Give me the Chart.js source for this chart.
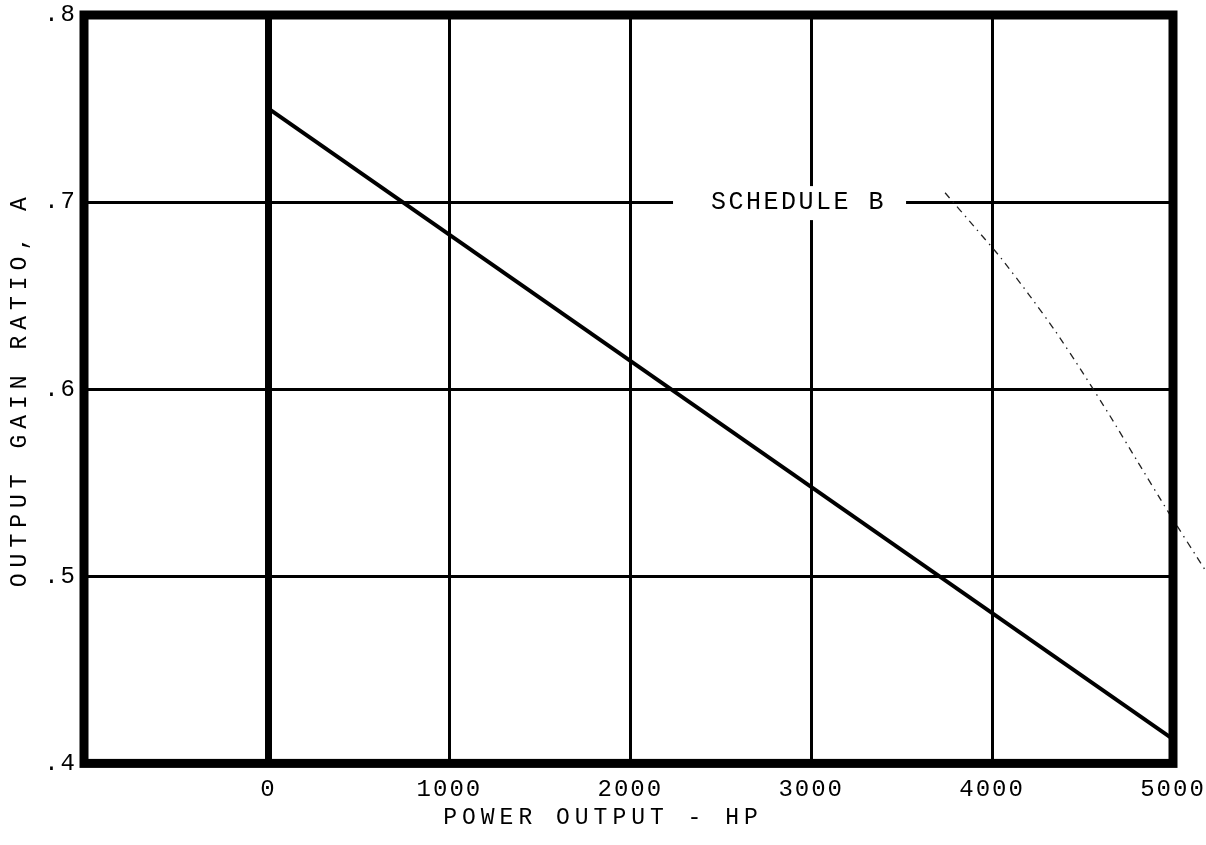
<!DOCTYPE html>
<html>
<head>
<meta charset="utf-8">
<script src="https://cdn.jsdelivr.net/npm/chart.js@4.4.1/dist/chart.umd.min.js"></script>
<style>
  html, body { margin: 0; padding: 0; background: #fff; }
  canvas { display: block; }
</style>
</head>
<body>
<canvas id="chart" width="1206" height="845"></canvas>
<script>
// Output gain ratio against power output (straight schedule line)
const powerHp = [0, 5000];
const gainRatio = [0.750, 0.413];

// Faint dash-dot trace at the upper right
const traceHp = [3740, 3900, 4050, 4200, 4350, 4500, 4650, 4800, 4970, 5180];
const traceRatio = [0.705, 0.687, 0.670, 0.651, 0.631, 0.609, 0.586, 0.562, 0.535, 0.503];

// Axis ticks and their printed labels
const xTicks = [0, 1000, 2000, 3000, 4000, 5000];
const xTickLabels = ['0', '1000', '2000', '3000', '4000', '5000'];
const yTicks = [0.4, 0.5, 0.6, 0.7, 0.8];
const yTickLabels = ['.4', '.5', '.6', '.7', '.8'];

// In-plot caption and the point it is centred on
const scheduleText = 'SCHEDULE B';
const scheduleAt = [2930, 0.7];

const MONO = '"Liberation Mono", "DejaVu Sans Mono", monospace';

// Typewriter-style letter spacing for axis text
function withSpacing(ctx, spacing, fn) {
  const prev = ctx.letterSpacing;
  ctx.letterSpacing = spacing;
  try { fn(); } finally { ctx.letterSpacing = prev || '0px'; }
}
const baseDrawLabels = Chart.Scale.prototype.drawLabels;
Chart.Scale.prototype.drawLabels = function (area) {
  withSpacing(this.ctx, '2px', () => baseDrawLabels.call(this, area));
};
const baseDrawTitle = Chart.Scale.prototype.drawTitle;
Chart.Scale.prototype.drawTitle = function (area) {
  withSpacing(this.ctx, '6px', () => baseDrawTitle.call(this, area));
};
if (Chart.Title && Chart.Title._element) {
  const TitleEl = Chart.Title._element;
  const baseTitleDraw = TitleEl.prototype.draw;
  TitleEl.prototype.draw = function () {
    withSpacing(this.ctx, '5px', () => baseTitleDraw.call(this));
  };
}

// Heavy frame around the plotting area
const framePlugin = {
  id: 'frame',
  afterDatasetsDraw(chart) {
    const { ctx, chartArea: a } = chart;
    ctx.save();
    ctx.strokeStyle = '#000';
    ctx.lineWidth = 9;
    ctx.lineJoin = 'miter';
    ctx.strokeRect(a.left, a.top, a.right - a.left, a.bottom - a.top);
    ctx.restore();
  }
};

// Caption sitting on the .7 grid line, with the line broken behind it
const captionPlugin = {
  id: 'caption',
  beforeDatasetsDraw(chart) {
    const { ctx, scales } = chart;
    const x = scales.x.getPixelForValue(scheduleAt[0]);
    const y = scales.y.getPixelForValue(scheduleAt[1]);
    ctx.save();
    ctx.font = '25px ' + MONO;
    ctx.letterSpacing = '2.5px';
    const w = ctx.measureText(scheduleText).width;
    ctx.fillStyle = '#fff';
    ctx.fillRect(x - w / 2 - 38, y - 16, w + 58, 34);
    ctx.fillStyle = '#000';
    ctx.textAlign = 'center';
    ctx.textBaseline = 'middle';
    ctx.fillText(scheduleText, x, y);
    ctx.restore();
  }
};

new Chart(document.getElementById('chart'), {
  type: 'line',
  data: {
    datasets: [
      {
        label: 'Output gain ratio',
        data: powerHp.map((x, i) => ({ x, y: gainRatio[i] })),
        borderColor: '#000',
        borderWidth: 4,
        pointRadius: 0,
        tension: 0
      },
      {
        label: 'Trace',
        data: traceHp.map((x, i) => ({ x, y: traceRatio[i] })),
        borderColor: '#222',
        borderWidth: 1.3,
        borderDash: [7, 5, 1.5, 5],
        pointRadius: 0,
        tension: 0.2,
        clip: false
      }
    ]
  },
  options: {
    responsive: false,
    animation: false,
    layout: { padding: { top: 15, right: 0, bottom: 0, left: 0 } },
    plugins: {
      legend: { display: false },
      tooltip: { enabled: false },
      title: {
        display: true,
        position: 'bottom',
        text: 'POWER OUTPUT - HP',
        color: '#000',
        font: { family: MONO, size: 23, weight: 'normal' },
        padding: { top: 0, bottom: 13 }
      }
    },
    scales: {
      x: {
        type: 'linear',
        min: -1020,
        max: 5000,
        afterBuildTicks: s => { s.ticks = xTicks.map(v => ({ value: v })); },
        afterFit: s => { s.height = 41; s.paddingLeft = 0; s.paddingRight = 33; },
        grid: {
          color: '#000',
          lineWidth: c => (c.tick && c.tick.value === 0 ? 7 : 3),
          drawTicks: false
        },
        border: { display: false },
        ticks: {
          color: '#000',
          font: { family: MONO, size: 24 },
          padding: 12,
          maxRotation: 0,
          autoSkip: false,
          callback: (v, i) => xTickLabels[i]
        }
      },
      y: {
        type: 'linear',
        min: 0.4,
        max: 0.8,
        afterBuildTicks: s => { s.ticks = yTicks.map(v => ({ value: v })); },
        afterFit: s => { s.width = 84; s.paddingTop = 0; s.paddingBottom = 0; },
        grid: { color: '#000', lineWidth: 3, drawTicks: false },
        border: { display: false },
        ticks: {
          color: '#000',
          font: { family: MONO, size: 24 },
          padding: 7,
          autoSkip: false,
          callback: (v, i) => yTickLabels[i]
        },
        title: {
          display: true,
          text: 'OUTPUT GAIN RATIO, A',
          color: '#000',
          font: { family: MONO, size: 23 },
          padding: { top: 6, bottom: 0 }
        }
      }
    }
  },
  plugins: [captionPlugin, framePlugin]
});
</script>
</body>
</html>
